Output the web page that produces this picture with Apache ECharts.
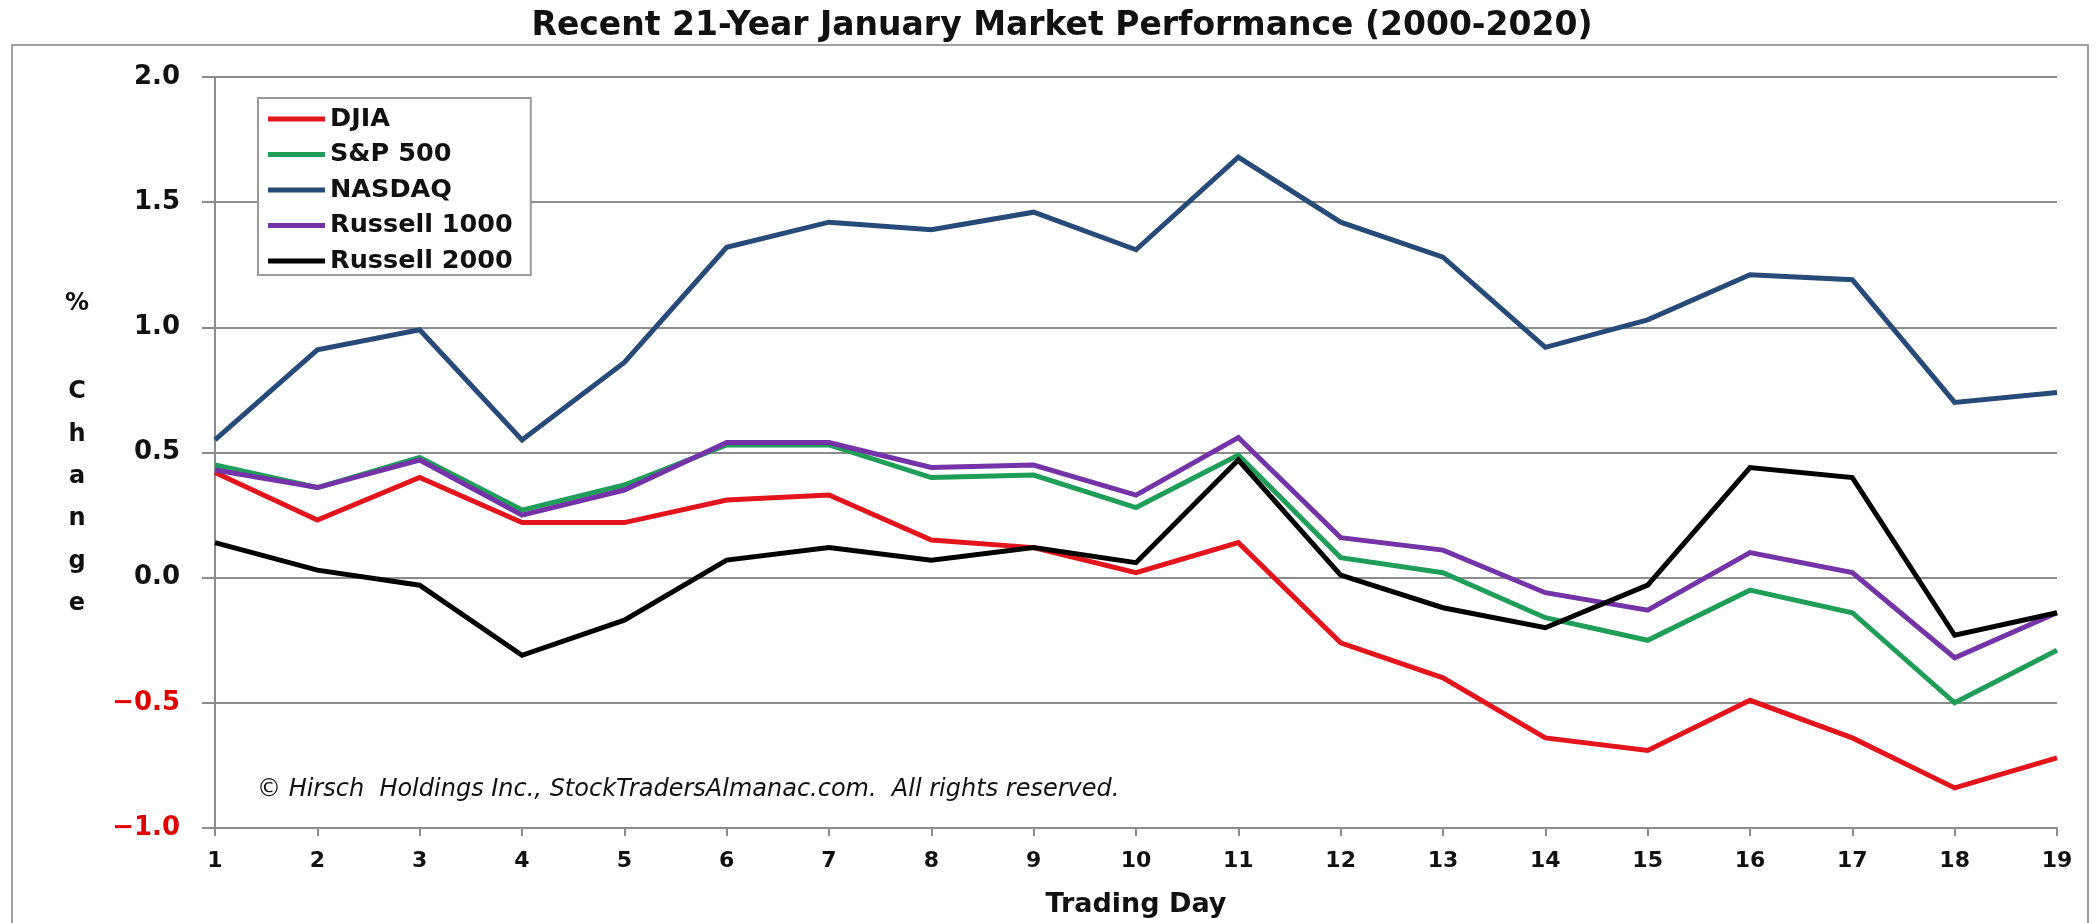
<!DOCTYPE html>
<html>
<head>
<meta charset="utf-8">
<script src="https://cdn.jsdelivr.net/npm/echarts@6/dist/echarts.min.js"></script>
<style>
  html, body { margin: 0; padding: 0; background: #ffffff; }
  #chart { width: 2098px; height: 923px; }
</style>
</head>
<body>
<div id="chart"></div>
<script>
var titleText = 'Recent 21-Year January Market Performance (2000-2020)';
var days = ['1','2','3','4','5','6','7','8','9','10','11','12','13','14','15','16','17','18','19'];
var seriesNames = ['DJIA', 'S&P 500', 'NASDAQ', 'Russell 1000', 'Russell 2000'];
var djia    = [0.42, 0.23, 0.40, 0.22, 0.22, 0.31, 0.33, 0.15, 0.12, 0.02, 0.14, -0.26, -0.40, -0.64, -0.69, -0.49, -0.64, -0.84, -0.72];
var sp500   = [0.45, 0.36, 0.48, 0.27, 0.37, 0.53, 0.53, 0.40, 0.41, 0.28, 0.49, 0.08, 0.02, -0.16, -0.25, -0.05, -0.14, -0.50, -0.29];
var nasdaq  = [0.55, 0.91, 0.99, 0.55, 0.86, 1.32, 1.42, 1.39, 1.46, 1.31, 1.68, 1.42, 1.28, 0.92, 1.03, 1.21, 1.19, 0.70, 0.74];
var r1000   = [0.43, 0.36, 0.47, 0.25, 0.35, 0.54, 0.54, 0.44, 0.45, 0.33, 0.56, 0.16, 0.11, -0.06, -0.13, 0.10, 0.02, -0.32, -0.14];
var r2000   = [0.14, 0.03, -0.03, -0.31, -0.17, 0.07, 0.12, 0.07, 0.12, 0.06, 0.47, 0.01, -0.12, -0.20, -0.03, 0.44, 0.40, -0.23, -0.14];
var yMin = -1.0, yMax = 2.0, yStep = 0.5;
var yAxisTitle = '%';
var yAxisWord = 'Change';
var xAxisTitle = 'Trading Day';
var copyright = '\u00A9 Hirsch  Holdings Inc., StockTradersAlmanac.com.  All rights reserved.';

var colors = ['#e3141b', '#1f9e5a', '#264b78', '#7433a6', '#000000'];
var values = [djia, sp500, nasdaq, r1000, r2000];
var FONT = 'DejaVu Sans';

var chart = echarts.init(document.getElementById('chart'), null, { renderer: 'canvas' });

var series = seriesNames.map(function (n, i) {
  return {
    name: n,
    type: 'line',
    data: values[i],
    showSymbol: false,
    symbol: 'none',
    lineStyle: { color: colors[i], width: 5, join: 'miter' },
    itemStyle: { color: colors[i] },
    emphasis: { disabled: true },
    z: 2 + i
  };
});

var option = {
  backgroundColor: '#ffffff',
  animation: false,
  textStyle: { fontFamily: FONT },
  grid: { left: 215, right: 41, top: 77, bottom: 95, containLabel: false },
  legend: {
    data: seriesNames.map(function (n, i) { return { name: n, icon: 'rect', itemStyle: { color: colors[i] } }; }),
    orient: 'vertical',
    left: 258,
    top: 98,
    itemWidth: 57,
    itemHeight: 5,
    itemGap: 9.5,
    padding: [8, 18, 1, 10],
    backgroundColor: '#ffffff',
    borderColor: '#9a9a9a',
    borderWidth: 2,
    textStyle: { fontFamily: FONT, fontWeight: 'bold', fontSize: 25.5, color: '#111', lineHeight: 26 },
    selectedMode: false,
    z: 10
  },
  xAxis: {
    type: 'category',
    data: days,
    boundaryGap: false,
    name: xAxisTitle,
    nameLocation: 'middle',
    nameGap: 63,
    nameTextStyle: { fontFamily: FONT, fontWeight: 'bold', fontSize: 27, color: '#111' },
    axisLine: { show: true, onZero: false, lineStyle: { color: '#8c8c8c', width: 2 } },
    axisTick: { show: true, alignWithLabel: true, length: 8, lineStyle: { color: '#8c8c8c', width: 2 } },
    axisLabel: { fontFamily: FONT, fontWeight: 'bold', fontSize: 22, color: '#111', margin: 22 },
    splitLine: { show: false }
  },
  yAxis: {
    type: 'value',
    min: yMin,
    max: yMax,
    interval: yStep,
    axisLine: { show: true, lineStyle: { color: '#8c8c8c', width: 2 } },
    axisTick: { show: true, length: 13, lineStyle: { color: '#8c8c8c', width: 2 } },
    splitLine: { show: true, lineStyle: { color: '#8c8c8c', width: 2 } },
    axisLabel: {
      margin: 35,
      formatter: function (v) {
        if (v < 0) return '{neg|\u2212' + Math.abs(v).toFixed(1) + '}';
        return '{pos|' + v.toFixed(1) + '}';
      },
      rich: {
        pos: { fontFamily: FONT, fontWeight: 'bold', fontSize: 26, color: '#111' },
        neg: { fontFamily: FONT, fontWeight: 'bold', fontSize: 26, color: '#e00000' }
      }
    }
  },
  graphic: [
    {
      type: 'rect',
      silent: true,
      z: -10,
      shape: { x: 12, y: 45, width: 2076, height: 900 },
      style: { fill: 'none', stroke: '#a0a0a0', lineWidth: 2 }
    },
    {
      type: 'text',
      silent: true,
      x: 1062, y: 26,
      style: { text: titleText, fontFamily: FONT, fontWeight: 'bold', fontSize: 33, fill: '#111', align: 'center', verticalAlign: 'middle' }
    },
    {
      type: 'text',
      silent: true,
      x: 77, y: 304,
      style: { text: yAxisTitle, fontFamily: FONT, fontWeight: 'bold', fontSize: 24, fill: '#111', align: 'center', verticalAlign: 'middle' }
    },
    {
      type: 'text',
      silent: true,
      x: 77, y: 371,
      style: { text: yAxisWord.split('').join('\n'), fontFamily: FONT, fontWeight: 'bold', fontSize: 24, lineHeight: 42.3, fill: '#111', align: 'center', verticalAlign: 'top' }
    },
    {
      type: 'text',
      silent: true,
      x: 257, y: 790,
      z: 5,
      style: { text: copyright, fontFamily: FONT, fontStyle: 'italic', fontSize: 24, fill: '#111', align: 'left', verticalAlign: 'middle' }
    }
  ],
  series: series
};

chart.setOption(option);
</script>
</body>
</html>
